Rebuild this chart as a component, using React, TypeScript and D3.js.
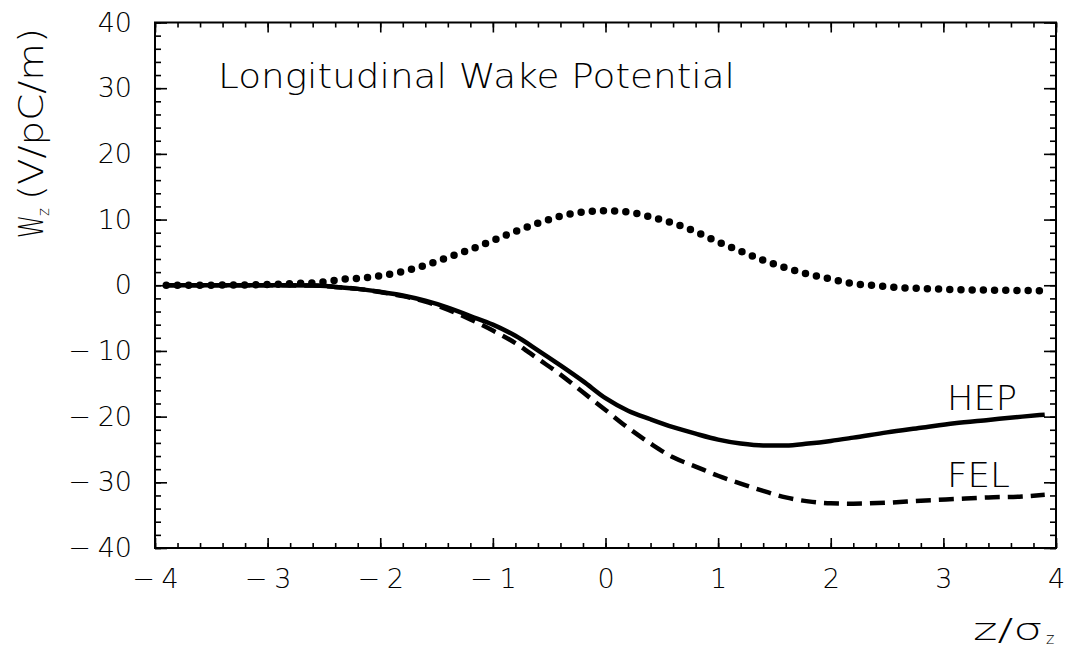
import React, { useRef, useEffect } from "react";
import * as d3 from "d3";

// dotted curve
const zDot = [-3.9, -3.2, -2.9, -2.7, -2.55, -2.45, -2.3, -2.15, -2.0, -1.8, -1.6, -1.4, -1.2, -1.0, -0.8, -0.6, -0.4, -0.2, 0.0, 0.2, 0.4, 0.6, 0.8, 1.0, 1.2, 1.4, 1.6, 1.8, 2.0, 2.2, 2.4, 2.6, 2.8, 3.0, 3.2, 3.4, 3.6, 3.9];
const wDot = [0, 0.05, 0.15, 0.3, 0.4, 0.65, 0.95, 1.1, 1.45, 2.1, 3.05, 4.25, 5.45, 6.8, 8.2, 9.45, 10.5, 11.15, 11.35, 11.15, 10.4, 9.45, 8.15, 6.6, 5.2, 3.8, 2.65, 1.7, 0.95, 0.25, -0.05, -0.35, -0.5, -0.6, -0.7, -0.75, -0.78, -0.85];

// HEP (solid)
const zHep = [-3.9, -3.0, -2.6, -2.4, -2.2, -2.0, -1.8, -1.6, -1.4, -1.2, -1.0, -0.8, -0.6, -0.4, -0.2, 0.0, 0.2, 0.4, 0.6, 0.8, 1.0, 1.2, 1.4, 1.6, 1.8, 2.0, 2.2, 2.5, 2.8, 3.1, 3.4, 3.7, 3.9];
const wHep = [0, 0, -0.05, -0.25, -0.55, -1.0, -1.55, -2.35, -3.4, -4.7, -6.0, -7.7, -9.9, -12.2, -14.6, -17.2, -19.1, -20.4, -21.6, -22.6, -23.5, -24.1, -24.4, -24.4, -24.1, -23.7, -23.2, -22.4, -21.7, -21.0, -20.5, -20.0, -19.7];

// FEL (dashed)
const zFel = [-3.9, -3.0, -2.6, -2.4, -2.2, -2.0, -1.8, -1.6, -1.4, -1.2, -1.0, -0.8, -0.6, -0.4, -0.2, 0.0, 0.2, 0.4, 0.6, 0.8, 1.0, 1.2, 1.4, 1.6, 1.8, 2.0, 2.2, 2.5, 2.8, 3.1, 3.4, 3.7, 3.9];
const wFel = [0, 0, -0.05, -0.25, -0.55, -1.05, -1.65, -2.5, -3.7, -5.2, -6.9, -8.8, -11.2, -13.6, -16.3, -19.0, -21.7, -24.1, -26.2, -27.6, -29.0, -30.2, -31.3, -32.3, -32.9, -33.2, -33.25, -33.1, -32.8, -32.55, -32.3, -32.15, -31.9];

const xTicks = [-4, -3, -2, -1, 0, 1, 2, 3, 4];
const yTicks = [-40, -30, -20, -10, 0, 10, 20, 30, 40];

const W = 1068;
const H = 648;
const FONT = "'DejaVu Sans ExtraLight', 'DejaVu Sans', sans-serif";

const App = () => {
  const ref = useRef(null);

  useEffect(() => {
    const svg = d3.select(ref.current);
    svg.selectAll("*").remove();

    const left = 155, right = 1056, top = 22.5, bottom = 548;
    const x = d3.scaleLinear().domain([-4, 4]).range([left, right]);
    const y = d3.scaleLinear().domain([-40, 40]).range([bottom, top]);

    const fmt = (d) => (d < 0 ? "\u2212\u2005" + Math.abs(d) : String(d));
    const xMinor = d3.range(-4, 4.001, 0.2).map((d) => +d.toFixed(1));
    const yMinor = d3.range(-40, 40.001, 2);

    const styleAxis = (g) => {
      g.select(".domain").remove();
      g.selectAll("line").attr("stroke", "#000").attr("stroke-width", 1.6);
      g.selectAll("text")
        .attr("font-family", FONT)
        .attr("font-weight", 200)
        .attr("font-size", 27)
        .attr("fill", "#000");
    };

    // minor ticks
    svg.append("g").attr("transform", `translate(0,${bottom})`)
      .call(d3.axisBottom(x).tickValues(xMinor).tickSize(-5).tickFormat(() => "")).call(styleAxis);
    svg.append("g").attr("transform", `translate(0,${top})`)
      .call(d3.axisTop(x).tickValues(xMinor).tickSize(-5).tickFormat(() => "")).call(styleAxis);
    svg.append("g").attr("transform", `translate(${left},0)`)
      .call(d3.axisLeft(y).tickValues(yMinor).tickSize(-6).tickFormat(() => "")).call(styleAxis);
    svg.append("g").attr("transform", `translate(${right},0)`)
      .call(d3.axisRight(y).tickValues(yMinor).tickSize(-6).tickFormat(() => "")).call(styleAxis);

    // major ticks with labels
    svg.append("g").attr("transform", `translate(0,${bottom})`)
      .call(d3.axisBottom(x).tickValues(xTicks).tickSize(-10).tickPadding(21).tickFormat(fmt)).call(styleAxis);
    svg.append("g").attr("transform", `translate(0,${top})`)
      .call(d3.axisTop(x).tickValues(xTicks).tickSize(-10).tickFormat(() => "")).call(styleAxis);
    svg.append("g").attr("transform", `translate(${left},0)`)
      .call(d3.axisLeft(y).tickValues(yTicks).tickSize(-12).tickPadding(23).tickFormat(fmt)).call(styleAxis);
    svg.append("g").attr("transform", `translate(${right},0)`)
      .call(d3.axisRight(y).tickValues(yTicks).tickSize(-12).tickFormat(() => "")).call(styleAxis);

    // frame
    svg.append("rect")
      .attr("x", left).attr("y", top)
      .attr("width", right - left).attr("height", bottom - top)
      .attr("fill", "none").attr("stroke", "#000").attr("stroke-width", 2);

    const line = d3.line().x((d) => x(d[0])).y((d) => y(d[1])).curve(d3.curveMonotoneX);

    svg.append("path")
      .attr("d", line(d3.zip(zFel, wFel)))
      .attr("fill", "none").attr("stroke", "#000")
      .attr("stroke-width", 4.5).attr("stroke-dasharray", "15 8");

    svg.append("path")
      .attr("d", line(d3.zip(zHep, wHep)))
      .attr("fill", "none").attr("stroke", "#000").attr("stroke-width", 4.5);

    svg.append("path")
      .attr("d", line(d3.zip(zDot, wDot)))
      .attr("fill", "none").attr("stroke", "#000")
      .attr("stroke-width", 7.5).attr("stroke-linecap", "round")
      .attr("stroke-dasharray", "0 11.2");

    // texts
    const txt = (parent, s, tx, ty, size) =>
      parent.append("text").attr("x", tx).attr("y", ty)
        .attr("font-family", FONT).attr("font-weight", 200)
        .attr("font-size", size).attr("fill", "#000").text(s);

    txt(svg, "Longitudinal Wake Potential", 218, 88, 34)
      .attr("textLength", 517).attr("lengthAdjust", "spacingAndGlyphs");
    txt(svg, "HEP", 947, 410, 34).attr("textLength", 70).attr("lengthAdjust", "spacingAndGlyphs");
    txt(svg, "FEL", 947, 487, 34).attr("textLength", 63).attr("lengthAdjust", "spacingAndGlyphs");

    // x title
    txt(svg, "z/\u03c3", 973, 640, 31).attr("textLength", 70).attr("lengthAdjust", "spacingAndGlyphs");
    txt(svg, "z", 1046, 644, 16);

    // y title
    const yt = svg.append("g").attr("transform", "translate(43,238) rotate(-90)");
    txt(yt, "W", 0, 0, 34).attr("textLength", 23).attr("lengthAdjust", "spacingAndGlyphs");
    txt(yt, "z", 22, 6, 15);
    txt(yt, "(V/pC/m)", 38, 0, 34).attr("textLength", 172).attr("lengthAdjust", "spacingAndGlyphs");
  }, []);

  return (
    <svg
      ref={ref}
      width={W}
      height={H}
      style={{ position: "absolute", left: 0, top: 0, background: "#fff" }}
    />
  );
};

export default App;
